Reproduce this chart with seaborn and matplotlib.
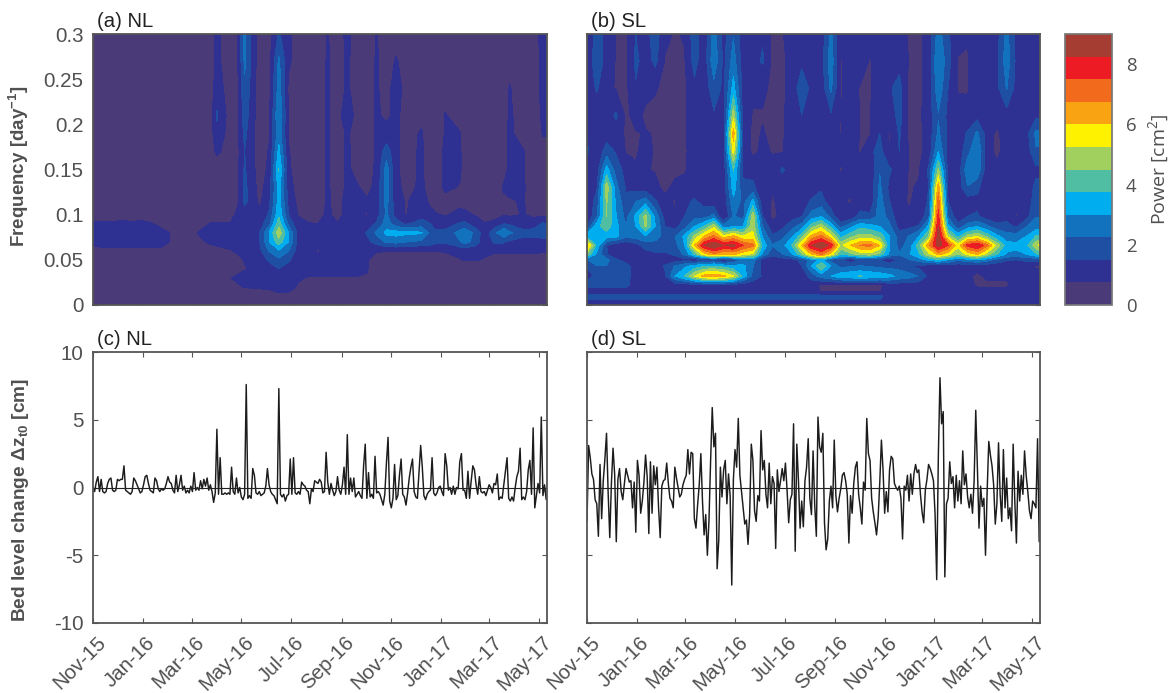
import numpy as np
import pandas as pd
import matplotlib
matplotlib.use('Agg')
import matplotlib.pyplot as plt
import matplotlib.dates as mdates
from matplotlib.colors import ListedColormap, BoundaryNorm
from matplotlib.transforms import ScaledTranslation
import seaborn as sns

# axis values
freq_nl = [0, 0.012, 0.02, 0.03, 0.04, 0.05, 0.06, 0.07, 0.08, 0.09, 0.10, 0.115, 0.13, 0.15, 0.17, 0.19, 0.21, 0.24, 0.27, 0.3]
freq_sl = [0, 0.01, 0.015, 0.022, 0.032, 0.043, 0.05, 0.056, 0.066, 0.076, 0.087, 0.098, 0.115, 0.13, 0.15, 0.17, 0.19, 0.21, 0.24, 0.27, 0.3]
days_nl = [0, 12, 24, 36, 48, 60, 72, 84, 96, 108, 120, 132, 144, 152, 168, 176, 186, 204, 216, 228, 240, 252, 264, 276,
           288, 300, 312, 324, 336, 348, 360, 372, 384, 403, 412, 420, 432, 450, 456, 470, 480, 492, 504, 511, 528, 540, 552, 557]
days_sl = list(range(0, 553, 12)) + [557]
tick_months = ['2015-11-01', '2016-01-01', '2016-03-01', '2016-05-01', '2016-07-01', '2016-09-01',
               '2016-11-01', '2017-01-01', '2017-03-01', '2017-05-01']
tick_names = ['Nov-15', 'Jan-16', 'Mar-16', 'May-16', 'Jul-16', 'Sep-16', 'Nov-16', 'Jan-17', 'Mar-17', 'May-17']
power_colors = ['#4a3b78', '#2e3192', '#1f4fa2', '#1272bd', '#00aeef', '#4fbea2',
                '#a2d05f', '#fff200', '#f9a313', '#f26a1b', '#ed1c24', '#a63d33']

# wavelet power NL, one row per frequency
power_nl = [
    [.3] * 48,
    [.3] * 19 + [.7] * 10 + [.3] * 19,
    [.3] * 15 + [.6, .8, .9, 1, 1, .9, .7] + [.3] * 26,
    [.3] * 14 + [.7, .9, 1, 1, 1.1, 1.1, 1, .8, .72] + [.7] * 6 + [.3] * 19,
    [.3] * 15 + [.4, .7, 1, 1.2, 1.5, 1.2, 1] + [1] * 6 + [.8, .4] + [.3] * 18,
    [.3] * 15 + [.5, .8, 1.1, 1.6, 2.1, 1.6, 1, .9, .9, .9, 1, 1, 1, .8, .5] + [.3] * 7 + [.7, .8, .8, .7] + [.4] * 7,
    [.6] * 9 + [.4] * 4 + [.6, .7, .85, 1, 1.3, 2.3, 2.9, 2.3, 1.1, .9, .7, .9, .9, .9, .9, .8, .8, .8, .78, .78, .78, .78, .78, .85, 1, 1, 1, .9, .9, .9, .9, .9, .9, .85, .8],
    [.9, 1, 1, 1, 1, 1, 1, 1, .7, .4, .4, .6, .9, .9, 1, 1, 1, 1.4, 3, 4.2, 3, 1.2, 1, 1, 1, 1, 1, 1, 1.3, 1.8, 2.4, 2.5, 2.3, 2.1, 2, 1.7, 1.6, 2.2, 2.6, 1.9, 1, 1.6, 1.6, 1.4, 1.2, 1.2, 1.1, 1],
    [1, 1, 1, 1, 1, 1, 1, 1, .7, .4, .4, .9, 1, 1, 1, 1.1, 1.1, 1.5, 3, 5, 3, 1.2, .9, .9, .9, .9, .9, .9, 1.6, 2.4, 3.2, 3.3, 3.2, 3.1, 2.2, 1.7, 1.8, 2.5, 2.8, 2, 1, 2, 3, 2.4, 1.8, 1.8, 2.1, 2.2],
    [.9, .9, .9, 1, .9, 1, .8, .5, .3, .3, .3, .4, .8, .8, .8, 1.1, 1.1, 1.1, 2, 4.2, 2, 1, .8, .75, .9, .8, 1, .9, 1, 1.6, 2.6, 1.8, 1.4, 1.8, 1.6, 1.1, 1, 1.6, 1.7, 1, .8, 1, 1.5, 1.4, .9, 1.1, 1.6, 1.4],
    [.3] * 15 + [.9, 1.1, .9, 1.6, 3.6, 1.5, .7, .4, .5, .9, .5, 1, .9, .7, 1.2, 2.4, 1.2, .7, 1.2, .9, .8, .7, .9, .9, .7, .4, .4, .7, .6, .8, .6, .6, .5],
    [.3] * 15 + [.4, 1.7, .6, 1.3, 3.3, 1.3, .5, .3, .4, .85, .5, 1, .9, .85, 1, 2.5, 1, .7, 1, .7, .5, .5, .6, .5, .6, .3, .3, .6, .7, .8, .4, .4, .4],
    [.3] * 15 + [.4, 1.7, .5, 1.1, 3.3, 1.1, .4, .3, .3, .85, .4, .9, .85, .5, 1, 2.5, 1, .5, .9, .5, .4, .9, .7, .4, .7, .3, .3, .85, .9, .85, .3, .4, .4],
    [.3] * 15 + [.4, 1.6, .4, .9, 3.8, .9, .3, .3, .3, .85, .3, .9, .5, .4, .9, 2.6, .9, .4, .9, .4, .3, .9, .9, .3, .75, .3, .3, .5, .9, .8, .3, .4, .4],
    [.3] * 12 + [.4, .9, .4, .4, 1.5, .4, .8, 3.2, .8, .3, .3, .3, .85, .3, .9, .4, .4, .85, 1.9, .9, .4, .9, .3, .3, .9, .9, .3, .4, .3, .3, .4, .9, .8, .3, .5, .5],
    [.3] * 12 + [.4, 1.3, .4, .4, 1.7, .3, .7, 2.7, .7, .3, .3, .3, .85, .3, .9, .3, .3, .85, 1, .9, .4, .85, .3, .3, .8, .8, .3, .3, .3, .3, .4, .9, .4, .3, .8, .8],
    [.3] * 12 + [.4, 1.6, .4, .4, 1.9, .3, .6, 3, .7, .3, .3, .3, .85, .3, 1.5, .3, .3, .85, .6, .95, .4, .5, .3, .3, .8, .4, .3, .3, .3, .3, .3, .9, .3, .3, .9, .9],
    [.3] * 12 + [.4, 1.1, .4, .4, 2.1, .3, .5, 2.6, .6, .3, .3, .3, .85, .3, .9, .3, .3, .85, .4, 1.2, .4, .3, .3, .3, .4, .3, .3, .3, .3, .3, .3, .8, .3, .3, 1, 1],
    [.3] * 12 + [.4, .9, .4, .4, 2.4, .3, .5, 2.4, .9, .3, .3, .3, .85, .3, .9, .3, .3, .85, .3, .85, .3, .3, .3, .3, .3, .3, .3, .3, .3, .3, .3, .5, .3, .3, 1, 1],
    [.3] * 12 + [.4, .9, .4, .4, 2.4, .3, .4, 1.6, .9, .3, .3, .3, .8, .3, 1, .3, .3, .8] + [.3] * 15 + [.3, 1.1, 1.1],
]

# wavelet power SL
power_sl = [
    [1.2] * 48,
    [1.7] * 31 + [1.1] * 17,
    [1.1] * 24 + [.7] * 7 + [1.1] * 17,
    [1.7] * 5 + [1.1] * 19 + [.6] * 7 + [1.1] * 9 + [.6] * 4 + [1.1] * 4,
    [1.2, 1.7, 1.9, 1.9, 1.9, 1, .9, .7, 1.4, 3, 3.8, 5.2, 6.3, 6.5, 6.2, 5.3, 3.5, 2, 1.4, 1.1, 1.1, .9, 1, 1.8, 2.6, 3, 3.5, 3.6, 3.8, 3.6, 3.5, 3.2, 2.8, 2.6, 2.2, 1.3, 1.1, 1, .9, .9, .6, .9, .9, .9, .9, .9, .9, .9],
    [1.5, 2.2, 2.2, 1.5, 1.8, 1.1, .7, 1, 1.6, 2.3, 2.8, 3.3, 3.7, 3.8, 3.5, 3.2, 3.2, 2.3, 1.2, 1, 1, 1, 1.5, 3, 4.5, 3, 2, 2.2, 2.3, 2.2, 2, 2, 1.9, 1.6, 1.3, 1.1, 1, 1, 1, 1, 1, 1, 1, 1, 1, .9, .7, .7],
    [2.2, 2.8, 2.5, 1.6, 1.2, 1.1, .9, 1, 1, 1.1, 1.3, 1, 1.3, 1.5, .8, 1.5, 2.5, 2.6, 1.1, 1, 1.1, 1.2, 1.7, 2.6, 3.2, 1.9, 1.6, .9, 1.6, 1.5, 1.5, .9, 1.6, 2.2, 2.6, 3.2, 3.6, 3, 2.4, 2.7, 3, 2.6, 2, 1.6, 1.5, 1.7, 1.7, 1.7],
    [4.5, 2.8, 1.6, .9, .9, 1.1, 1.2, 1.4, 1.4, 1.6, 2.4, 3.8, 5.6, 6.5, 6, 6.1, 5.5, 5, 2.8, 1.7, 2.2, 2.9, 4.3, 6, 6.8, 5.6, 3.8, 4.2, 4.8, 4.9, 4.2, 2.9, 2.3, 2.9, 3.6, 5, 6.2, 5.5, 4.4, 5.5, 6, 4.8, 3.8, 2.9, 2.8, 3, 3.6, 3.8],
    [6.3, 3.5, 1.5, 1, .9, 1.2, 1.8, 1.8, 1.8, 2, 3, 6, 8.3, 9, 8.3, 8.5, 7.5, 7, 3.5, 2.3, 2.7, 3.8, 6, 8.3, 9, 8, 5, 6, 6.8, 7, 6, 3, 2, 2.5, 4.2, 6.5, 8.7, 7.5, 5.5, 7.8, 8.3, 7, 5, 3.3, 3.2, 3.5, 5, 5.5],
    [3.5, 3.1, 3.3, 3.2, 2.4, 2.6, 2.9, 2.7, 1.9, 2.2, 3.2, 4.7, 6, 7, 5.5, 6.2, 5.3, 5.5, 2.9, 1.6, 2, 2.9, 4.2, 6.2, 7, 5.5, 3.5, 4.3, 4.8, 4.8, 4.2, 3, 1.9, 2.3, 3, 4.5, 8.8, 5, 3.5, 4.8, 5.2, 4.2, 3.2, 2.6, 2.6, 3, 3.8, 3.8],
    [1.5, 3.5, 4.2, 3.2, 2.3, 3, 4.6, 3, 1.5, 1.2, 2, 3, 3.8, 5, 2.5, 3, 3, 5, 2.2, 1, 1.3, 2, 2.6, 4.2, 5, 3.5, 2, 2.8, 3.5, 3.3, 3, 2.4, 1.2, 1.3, 1.6, 3.2, 8.3, 3.2, 1.8, 2.6, 3, 2.4, 1.8, 1.7, 1.4, 2.2, 2.6, 2.6],
    [.7, 2.2, 4.5, 3, 2, 3.2, 4.8, 2.8, 1.2, .8, 1.5, 2, 2, 2.5, .7, 2.3, 2, 5, 1.5, .6, .9, 1.2, 1.5, 2.6, 3, 2, .7, 1, 1.8, 1.7, 2.6, 2, .9, .8, .9, 2, 7.8, 2.2, 1, 1.5, 1.6, 1.1, .9, 1.3, .7, 1.2, 2.2, 2.2],
    [.9, 1.8, 4.6, 2.8, 1.7, 2.2, 2.6, 1.6, .9, .7, 1.3, 1.6, 1.2, 1, 1, 2.8, 2, 3.2, 1, .7, .9, 1.2, 1, 1.6, 1.8, 1, .8, .7, 1, .9, 2.6, 1.5, .9, .7, .9, 1.6, 7.2, 1.5, .9, 1.1, 1.3, .8, .8, 1.3, .8, 1.1, 1.8, 1.8],
    [1.1, 1.4, 5, 2.5, 1.4, 1.2, 1.1, .9, .6, .9, .9, 1.1, 1, .9, 1, 3.4, 1.7, 1.7, .9, .8, 1.1, 1, .8, 1.1, 1.4, 1, 1, .9, .8, 1, 2.4, 1.3, 1, .7, .8, 1.5, 6.5, 1.3, 1, 2.2, 1.7, .9, .8, 1.4, 1.3, 1, 1.7, 1.7],
    [1.3, 1.1, 3.3, 1.9, 1.2, .8, .8, .7, .6, .6, .7, 1, .9, 1, 1.1, 3.8, 1.3, 1.2, 1, 1, 1.6, 1.2, .9, 1, 1.2, 1, .7, .9, .8, .9, 2.2, 1.6, 1.2, .7, .7, 1.6, 4.6, 1.2, 1, 2.8, 2.8, 1, .9, 1, 1, .9, 1.3, 1.3],
    [1.6, .9, 1.9, 1.4, .7, .7, .9, .7, .6, .6, .6, 1.2, 1, 1.2, 1.2, 5.5, 1.3, .6, .9, .7, .7, 1.2, 1.1, 1, 1.3, 1.1, .9, 1, .7, 1.3, 1.8, .7, 1.5, .7, .6, 1, 3, 1.2, 1, 2, 3, 1, .6, 1, .8, 1, 2.2, 2.2],
    [1.5, .9, 1.1, 1.2, .6, .7, .8, .7, .6, .6, .6, 1.3, 1.1, 1.4, 1.3, 6.4, 1.2, .6, .8, .6, .6, 1.3, .9, 1.1, 1.4, 1.3, .7, 1.2, .7, .7, 1.5, .7, 1.6, .6, .6, 1, 2.4, 1.3, 1, 1.6, 2.4, 1.1, .6, 1.1, 1.1, 1.2, 2.4, 2.4],
    [1.3, 1, 1.2, 1.6, .6, 1, .6, .6, .7, .6, .6, 1.4, 1, 1.4, 1.1, 5, 1.1, .7, .7, .6, .6, 1.3, 1.5, 1.2, 1.4, 1.4, .7, 1.5, .7, .7, 1.4, 1, 1.8, .6, .6, 1.1, 2.2, 1.3, 1, .9, 1.2, .9, 1.1, 1.2, 1.2, 1, 1.3, 1.3],
    [1, 1.6, .9, .7, .6, 1.4, 1, .8, .6, .6, .6, 1.3, 1, 2, 1.3, 3.3, 1.2, .9, .9, .6, .6, 1, 2, 1.3, 1, 2.4, .7, 1, .7, .7, 1.1, 1.4, 1.8, .6, .6, 1, 2.8, 1.5, .7, .7, 1.2, 1, 1.3, 2.3, 1.2, 1.2, 1.1, 1.1],
    [.7, 2.2, 1.1, .7, .6, 1.7, 1.1, 1.7, .7, .6, .7, 1.8, 1, 2.8, 1.3, 2.6, 1.1, 1.2, 1.6, .6, .6, 1, 1.3, 1, 1.2, 2.7, .7, 1, 1.1, .7, 1.2, 1.1, 1.2, .7, .6, 1, 3, 1.8, .7, .7, 1.1, 1.2, 1.3, 2.7, 1.3, 1.3, 1, 1],
    [.8, 1.8, 1.3, .7, .6, 1.5, 1.2, 1.9, .9, .7, .8, 1.9, 1, 2.6, 1.2, 2.2, 1, 1.5, 1.4, .6, .7, 1.1, 1, 1, 1, 2.4, .9, 1.5, 1.5, .8, 1, 1.4, 1.1, .7, .6, 1, 2.6, 1.6, 1, .8, 1, 1.2, 1.2, 2.5, 1.2, 1.5, 1.2, 1.2],
]

# bed level change, one value every second day
dz_nl = [
    0.0, -0.3, 0.4, 0.8, -0.3, 0.6, -0.3, -0.4, -0.3, 0.3, 0.6, 0.7, -0.2, -0.3, -0.2, 0.6, 0.5, 0.6, 0.6, 1.6,
    -0.2, -0.3, -0.4, -0.5, -0.3, 0.7, 0.5, 0.2, -0.1, -0.4, -0.3, 0.2, 0.8, 0.9, 0.3, -0.2, -0.3, -0.4, 0.7, 0.5,
    -0.1, -0.3, -0.1, -0.2, -0.1, 0.3, 0.8, 0.4, 0.3, -0.2, -0.4, 0.9, -0.3, 0.2, 0.9, -0.2, 0.1, -0.4, -0.2, -0.4,
    0.1, -0.3, 1.1, -0.2, 0.0, -0.2, 0.5, -0.1, 0.6, 0.1, 0.7, -0.2, 0.2, -0.3, -1.1, -0.4, 4.3, -0.5, 2.2, -0.5,
    -0.5, -0.4, -0.5, -0.4, -0.5, 1.5, -0.3, -0.5, 0.7, -0.4, 0.0, -0.7, -0.9, -0.5, 7.6, -0.8, -0.6, -0.8, 1.4, 0.9,
    -0.4, -0.5, -0.3, -0.6, -0.5, -0.4, 0.1, 1.4, 0.2, -0.3, -0.5, -0.6, -0.9, -1.2, 7.3, -0.5, -0.7, -0.5, -1.0, -0.6,
    -0.5, 2.1, -0.5, 2.2, -0.4, -0.5, -0.3, -0.5, 0.4, 0.2, 0.1, -0.2, -0.3, -1.2, -0.1, -0.3, 0.5, 0.4, 0.3, 0.6,
    0.4, -0.4, -0.3, 2.6, 0.4, -0.5, 0.3, -0.2, -0.6, -0.3, 0.8, -0.2, -0.5, 0.2, 1.5, -0.5, 3.9, -0.5, 0.7, -0.3,
    0.7, -0.7, -0.5, -0.3, -0.6, -0.8, 1.6, 3.2, -0.8, 1.1, -0.7, -0.5, -0.8, 2.3, -0.4, -0.3, -0.5, -0.9, -1.3, -0.5,
    1.8, 3.7, -1.0, -1.5, -0.8, 1.7, -0.9, -0.6, 0.9, 2.1, -0.5, -0.7, -1.3, -0.4, 0.7, 1.5, 2.1, -0.3, -0.7, -0.8,
    1.2, 3.1, 1.5, -0.6, -0.9, -0.5, -0.3, -0.2, 2.2, -0.4, -0.6, -0.4, 0.0, 0.1, -0.3, -0.6, 2.5, 1.6, -0.2, 0.0,
    -0.5, 0.1, -0.5, 0.0, -0.1, 1.9, 2.5, -0.2, -0.2, -0.8, 1.2, -0.8, 0.5, 1.6, 1.3, 0.2, -0.5, 0.8, -0.3, -0.4,
    -0.3, -0.6, -0.2, 0.2, 0.0, -0.4, 0.3, 0.2, 1.0, -0.9, -0.7, -0.8, 0.2, 1.2, 2.2, -0.8, -1.0, -0.7, -1.0, 0.0,
    0.8, 1.2, 2.9, -0.9, -0.7, -0.9, -0.3, 1.3, 2.0, -0.5, 4.4, -1.5, -0.6, 0.3, -0.4, 5.2, -0.6, 0.2, -0.9,
]
dz_sl = [
    -2.5, 3.1, 2.2, 1.0, 0.6, -0.9, -1.2, -3.6, 1.7, -2.3, 0.5, 2.1, 4.0, -0.4, -3.7, 0.3, 2.9, 1.0, -4.0, 0.6,
    1.4, -0.3, -0.9, 0.3, 1.4, 0.9, 0.4, 0.5, -1.5, 0.4, -3.3, 2.0, 0.9, -1.9, -1.0, 0.4, 2.4, 0.8, -3.4, 1.9,
    -1.9, 1.6, 0.2, 1.5, -1.5, -3.7, 0.1, 0.5, 0.6, 1.8, 0.3, -0.8, -1.0, -1.5, 1.5, 0.7, 0.0, -0.7, -0.5, 0.2,
    0.6, 0.9, 2.8, 1.0, 2.6, 2.5, -2.3, -3.0, -1.3, 0.2, 2.5, -1.0, -3.5, -2.0, -5.0, -2.4, 2.0, 5.9, 3.0, 4.0,
    -6.0, -3.9, 1.5, -0.7, 1.3, 2.0, -1.2, 1.0, -0.6, -7.2, 0.6, 2.8, 1.5, 5.1, 0.9, -0.3, -1.5, -2.7, -2.4, -4.2,
    -2.0, 3.2, 2.0, -1.7, -2.5, -0.6, -1.0, 4.2, 1.3, 2.0, -0.5, -1.5, 1.8, -1.2, 0.8, 0.3, -4.5, 1.3, -0.3, 0.5,
    1.4, 0.5, 1.8, -0.2, -2.6, -0.9, -0.5, 4.7, -4.7, 3.2, 0.5, -3.0, -1.0, -2.9, 0.5, 1.5, 3.6, -0.8, -2.0, 2.7,
    -1.3, -3.6, 5.2, 3.0, 2.6, 4.0, -2.6, -4.6, -3.8, -1.0, 0.1, -1.5, 3.5, -0.6, -1.8, -0.8, -0.1, 0.9, 1.1, 0.5,
    -0.5, -4.1, -0.6, -1.9, 0.3, 1.5, 1.9, -0.5, -1.5, -2.7, 0.4, -0.2, 5.1, 2.5, 2.0, -0.8, -1.8, -2.6, -3.5, -2.2,
    0.4, 3.5, 1.3, -1.9, -0.3, -1.8, 1.3, 2.3, 2.1, 0.3, 0.0, -0.2, 0.1, -0.8, -3.8, 0.1, -0.2, 0.9, -1.0, 1.0,
    -0.5, 1.0, 1.7, 1.1, 1.3, -0.5, -1.8, -2.6, -0.2, 0.6, 1.7, 1.4, 1.0, 0.5, -2.0, -6.8, 2.3, 8.1, 4.7, 5.6,
    -6.6, -1.2, -0.8, 1.9, 0.3, 0.8, -1.5, 0.9, -1.0, 0.5, -1.2, 2.7, 0.2, 1.0, -0.7, -1.5, -0.5, -1.9, 0.5, 5.7,
    1.5, -3.0, 0.1, -1.4, -0.8, -5.0, -0.3, 3.4, 2.4, 1.6, 0.2, -2.7, -1.2, 3.3, -0.5, -2.5, 2.8, -1.5, 0.7, -2.3,
    -1.5, -3.2, 3.2, -1.0, -4.1, 1.2, -1.0, 0.9, -0.5, 2.7, 0.9, -0.3, -1.7, -2.3, -1.0, -1.2, -1.5, 3.6, -4.0,
]

sns.set_theme(style='ticks')
plt.rcParams['font.family'] = ['Liberation Sans', 'DejaVu Sans']
plt.rcParams['mathtext.fontset'] = 'custom'
plt.rcParams['mathtext.rm'] = 'Liberation Sans'
plt.rcParams['mathtext.bf'] = 'Liberation Sans:bold'
plt.rcParams['mathtext.default'] = 'regular'

text_color = '#505050'
W, H = 1171, 693


def panel(left, top, width=454, height=271):
    return plt.gcf().add_axes([left / W, 1 - (top + height) / H, width / W, height / H])


def to_x(days):
    return mdates.date2num(start + pd.to_timedelta(days, unit='D'))


fig = plt.figure(figsize=(W / 100, H / 100), dpi=100)
start = pd.Timestamp('2015-11-01')
end = start + pd.Timedelta(days=557)
ticks_x = mdates.date2num(pd.to_datetime(tick_months))

levels = np.linspace(0, 9, 13)
cmap = ListedColormap(power_colors)
norm = BoundaryNorm(levels, cmap.N)

ax_a = panel(93, 34)
ax_b = panel(587, 34, 453)
ax_c = panel(93, 352)
ax_d = panel(587, 352, 453)

cf = ax_a.contourf(to_x(days_nl), freq_nl, np.array(power_nl), levels=levels, cmap=cmap, norm=norm)
ax_b.contourf(to_x(days_sl), freq_sl, np.array(power_sl), levels=levels, cmap=cmap, norm=norm)

for ax, dz in [(ax_c, dz_nl), (ax_d, dz_sl)]:
    days = mdates.date2num(pd.date_range(start, periods=len(dz), freq='2D'))
    df = pd.DataFrame({'day': days, 'dz': dz})
    sns.lineplot(data=df, x='day', y='dz', ax=ax, color='#1c1c1c', linewidth=1.05, estimator=None, sort=False)
    ax.axhline(0, color='#222222', linewidth=0.8)
    ax.set_ylim(-10, 10)
    ax.set_yticks([-10, -5, 0, 5, 10])

for ax in [ax_a, ax_b]:
    ax.set_ylim(0, 0.3)
    ax.set_yticks([0, 0.05, 0.1, 0.15, 0.2, 0.25, 0.3])

for ax in [ax_a, ax_b, ax_c, ax_d]:
    ax.set_xlim(mdates.date2num(start), mdates.date2num(end))
    ax.set_xticks(ticks_x)
    ax.set_xlabel('')
    ax.set_ylabel('')
    ax.tick_params(direction='in', top=True, right=True, length=3.5, width=0.8, color='#555555',
                   labelsize=14.8, labelcolor=text_color, pad=7)
    for s in ax.spines.values():
        s.set_color('#555555')
        s.set_linewidth(1.3)
        s.set_visible(True)

for ax in [ax_a, ax_b]:
    ax.set_xticklabels([])
for ax in [ax_b, ax_d]:
    ax.set_yticklabels([])
for ax in [ax_c, ax_d]:
    ax.set_xticklabels(tick_names, rotation=45, ha='right', rotation_mode='anchor')
    shift = ScaledTranslation(3 / 100, 0, fig.dpi_scale_trans)
    for lab in ax.get_xticklabels():
        lab.set_transform(lab.get_transform() + shift)

ax_a.set_yticklabels(['0', '0.05', '0.1', '0.15', '0.2', '0.25', '0.3'])
ax_c.set_yticklabels(['-10', '-5', '0', '5', '10'])

ax_a.set_ylabel(r'Frequency [day$^{\mathbf{-1}}$]', fontsize=13.5, fontweight='bold', color=text_color)
ax_a.yaxis.set_label_coords(-0.137, 0.513)
ax_c.set_ylabel(r'Bed level change Δz$_{\mathbf{t0}}$ [cm]', fontsize=13.8, fontweight='bold', color=text_color)
ax_c.yaxis.set_label_coords(-0.137, 0.454)

for ax, name in zip([ax_a, ax_b, ax_c, ax_d], ['(a) NL', '(b) SL', '(c) NL', '(d) SL']):
    ax.text(0.008, 1.026, name, transform=ax.transAxes, fontsize=14.6, color='#222222', va='baseline', ha='left')

cax = panel(1065, 34, 47, 271)
cb = fig.colorbar(cf, cax=cax, ticks=[0, 2, 4, 6, 8])
cb.ax.minorticks_off()
cb.ax.tick_params(length=0, labelsize=13.4, labelcolor=text_color, pad=10)
for lab in cb.ax.get_yticklabels():
    lab.set_family('Open Sans')
cb.outline.set_edgecolor('#777777')
cb.set_label('Power [cm$^2$]', fontsize=14, color=text_color, labelpad=7, family='Open Sans')

fig.savefig('out.png', dpi=100)
